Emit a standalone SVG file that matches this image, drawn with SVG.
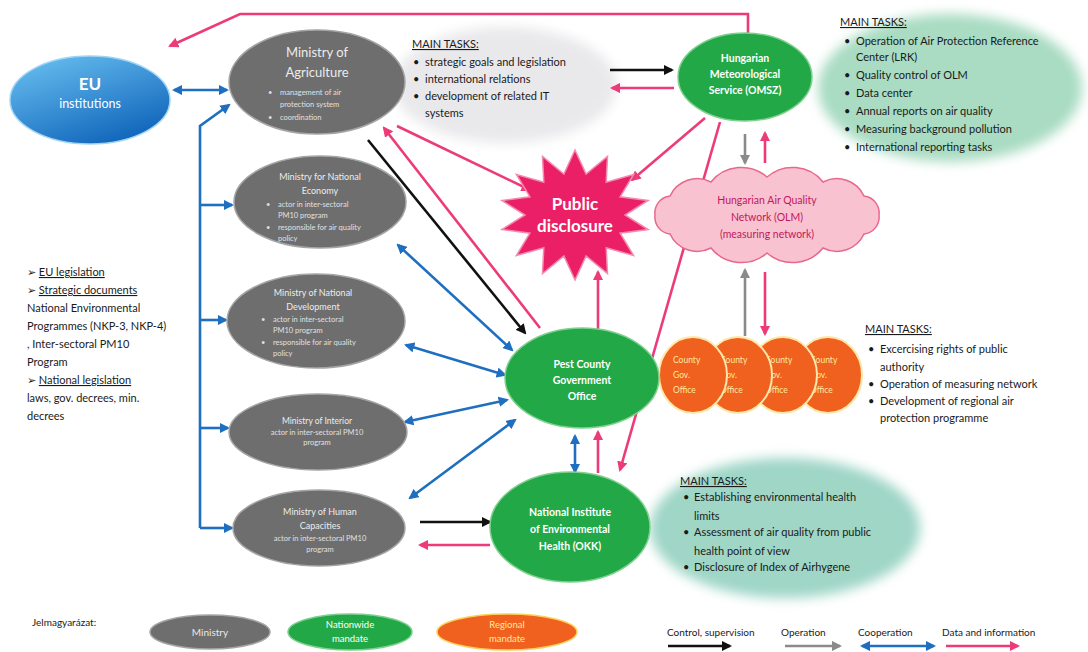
<svg xmlns="http://www.w3.org/2000/svg" width="1088" height="652" viewBox="0 0 1088 652">
<style>
text{font-family:Lato,"Liberation Sans",sans-serif}
.min{fill:#6e6e6e;stroke:#a5a5a5;stroke-width:1.5}
.mt{fill:#ececec;text-anchor:middle}
.ms{fill:#e0e0e0;font-size:7.5px}
.grn{fill:#22a846;stroke:#7fd08f;stroke-width:1.5}
.gt{fill:#fff;font-weight:bold;font-size:10.5px;text-anchor:middle}
.org{fill:#f0601e;stroke:#fde8a8;stroke-width:2}
.ot{fill:#fde9a0;font-size:8.5px}
.tk{fill:#1a1a1a;font-size:11px}
.ul{text-decoration:underline}
.c{fill:none;stroke-width:2.6}
.bk{stroke:#111;marker-end:url(#ak)}
.pk{stroke:#ec3b78;marker-end:url(#ap)}
.bl{stroke:#1f6fc0;marker-end:url(#ab)}
.bb{stroke:#1f6fc0;marker-start:url(#ab);marker-end:url(#ab)}
.gy{stroke:#8a8a8a;marker-end:url(#ag)}
</style>
<defs>
<marker id="ak" viewBox="0 0 10 10" refX="8" refY="5" markerWidth="4" markerHeight="4" orient="auto-start-reverse"><path d="M0,0 L10,5 L0,10 z" fill="#111"/></marker>
<marker id="ap" viewBox="0 0 10 10" refX="8" refY="5" markerWidth="4" markerHeight="4" orient="auto-start-reverse"><path d="M0,0 L10,5 L0,10 z" fill="#ec3b78"/></marker>
<marker id="ab" viewBox="0 0 10 10" refX="8" refY="5" markerWidth="4" markerHeight="4" orient="auto-start-reverse"><path d="M0,0 L10,5 L0,10 z" fill="#1f6fc0"/></marker>
<marker id="ag" viewBox="0 0 10 10" refX="8" refY="5" markerWidth="4" markerHeight="4" orient="auto-start-reverse"><path d="M0,0 L10,5 L0,10 z" fill="#8a8a8a"/></marker>
<linearGradient id="eu" x1="0" y1="0" x2="0.6" y2="1"><stop offset="0" stop-color="#6cc4f2"/><stop offset="1" stop-color="#1468bd"/></linearGradient>
<filter id="blur" x="-20%" y="-20%" width="140%" height="140%"><feGaussianBlur stdDeviation="6"/></filter>
</defs>
<rect width="1088" height="652" fill="#fff"/>

<g id="backgrounds">
<ellipse cx="505" cy="85" rx="112" ry="58" fill="#e9e9ec" filter="url(#blur)"/>
<ellipse cx="950" cy="88" rx="132" ry="74" fill="#a9dcc2" filter="url(#blur)"/>
<ellipse cx="785" cy="528" rx="135" ry="70" fill="#9fd6c6" filter="url(#blur)"/>
</g>

<g id="connectors">
<polyline class="c pk" points="748,33 748,14 240,14 170,46"/>
<line class="c bb" x1="174" y1="90" x2="227" y2="90"/>
<polyline class="c bl" points="200,528 200,126 229,105"/>
<line class="c bl" x1="200" y1="205" x2="232" y2="205"/>
<line class="c bl" x1="200" y1="320" x2="226" y2="320"/>
<line class="c bl" x1="200" y1="428" x2="228" y2="428"/>
<line class="c bl" x1="200" y1="528" x2="232" y2="528"/>
<line class="c bk" x1="368" y1="140" x2="525" y2="333"/>
<line class="c pk" x1="540" y1="328" x2="384" y2="128"/>
<line class="c pk" x1="397" y1="126" x2="530" y2="190"/>
<line class="c bk" x1="610" y1="70" x2="672" y2="70"/>
<line class="c pk" x1="674" y1="88" x2="612" y2="88"/>
<line class="c pk" x1="705" y1="118" x2="632" y2="180"/>
<line class="c pk" x1="720" y1="122" x2="620" y2="470"/>
<line class="c gy" x1="745" y1="134" x2="745" y2="163"/>
<line class="c pk" x1="765" y1="163" x2="765" y2="133"/>
<line class="c gy" x1="745" y1="336" x2="745" y2="270"/>
<line class="c pk" x1="765" y1="272" x2="765" y2="334"/>
<line class="c pk" x1="598" y1="330" x2="598" y2="272"/>
<line class="c bb" x1="398" y1="245" x2="512" y2="350"/>
<line class="c bb" x1="406" y1="345" x2="505" y2="375"/>
<line class="c bb" x1="405" y1="422" x2="507" y2="400"/>
<line class="c bb" x1="410" y1="498" x2="515" y2="420"/>
<line class="c bb" x1="575" y1="436" x2="575" y2="472"/>
<line class="c pk" x1="598" y1="473" x2="598" y2="432"/>
<line class="c bk" x1="420" y1="522" x2="490" y2="522"/>
<line class="c pk" x1="490" y1="545" x2="420" y2="545"/>
</g>

<g id="eu-institutions">
<ellipse cx="90" cy="100" rx="80" ry="44" fill="url(#eu)" stroke="#9fd4f5" stroke-width="1.5"/>
<text x="90" y="90" fill="#fff" font-weight="bold" font-size="17" text-anchor="middle">EU</text>
<text x="90" y="108" fill="#fff" font-size="12.5" text-anchor="middle">institutions</text>
</g>

<g id="ministry-agriculture">
<ellipse class="min" cx="317" cy="82" rx="88" ry="52"/>
<text class="mt" x="317" y="57" font-size="13">Ministry of</text>
<text class="mt" x="317" y="77" font-size="13">Agriculture</text>
<text class="ms" x="268" y="95">•</text><text class="ms" x="280" y="95">management of air</text>
<text class="ms" x="280" y="107">protection system</text>
<text class="ms" x="268" y="120">•</text><text class="ms" x="280" y="120">coordination</text>
</g>

<g id="ministry-economy">
<ellipse class="min" cx="320" cy="202" rx="86" ry="46"/>
<text class="mt" x="320" y="180" font-size="9">Ministry for National</text>
<text class="mt" x="320" y="194" font-size="9">Economy</text>
<text class="ms" x="266" y="207">•</text><text class="ms" x="278" y="207">actor in inter-sectoral</text>
<text class="ms" x="278" y="218">PM10 program</text>
<text class="ms" x="266" y="230">•</text><text class="ms" x="278" y="230">responsible for air quality</text>
<text class="ms" x="278" y="241">policy</text>
</g>

<g id="ministry-development">
<ellipse class="min" cx="316" cy="321" rx="89" ry="47"/>
<text class="mt" x="313" y="296" font-size="9">Ministry of National</text>
<text class="mt" x="313" y="310" font-size="9">Development</text>
<text class="ms" x="261" y="322">•</text><text class="ms" x="273" y="322">actor in inter-sectoral</text>
<text class="ms" x="273" y="333">PM10 program</text>
<text class="ms" x="261" y="345">•</text><text class="ms" x="273" y="345">responsible for air quality</text>
<text class="ms" x="273" y="356">policy</text>
</g>

<g id="ministry-interior">
<ellipse class="min" cx="318" cy="432" rx="89" ry="38"/>
<text class="mt" x="317" y="424" font-size="8.5">Ministry of Interior</text>
<text class="ms" x="317" y="435" text-anchor="middle">actor in inter-sectoral PM10</text>
<text class="ms" x="317" y="445" text-anchor="middle">program</text>
</g>

<g id="ministry-human">
<ellipse class="min" cx="319" cy="528" rx="86" ry="38"/>
<text class="mt" x="320" y="515" font-size="9">Ministry of Human</text>
<text class="mt" x="320" y="529" font-size="9">Capacities</text>
<text class="ms" x="320" y="541" text-anchor="middle">actor in inter-sectoral PM10</text>
<text class="ms" x="320" y="552" text-anchor="middle">program</text>
</g>

<g id="legislation-text">
<text class="tk" x="27" y="276">➢ <tspan class="ul">EU legislation</tspan></text>
<text class="tk" x="27" y="294">➢ <tspan class="ul">Strategic documents</tspan></text>
<text class="tk" x="27" y="312">National Environmental</text>
<text class="tk" x="27" y="330">Programmes (NKP-3, NKP-4)</text>
<text class="tk" x="27" y="348">, Inter-sectoral PM10</text>
<text class="tk" x="27" y="366">Program</text>
<text class="tk" x="27" y="384">➢ <tspan class="ul">National legislation</tspan></text>
<text class="tk" x="27" y="402">laws, gov. decrees, min.</text>
<text class="tk" x="27" y="420">decrees</text>
</g>

<g id="tasks-ministry">
<text class="tk ul" x="412" y="48">MAIN TASKS:</text>
<text class="tk" x="413" y="66">•</text><text class="tk" x="425" y="66">strategic goals and legislation</text>
<text class="tk" x="413" y="83">•</text><text class="tk" x="425" y="83">international relations</text>
<text class="tk" x="413" y="100">•</text><text class="tk" x="425" y="100">development of related IT</text>
<text class="tk" x="425" y="117">systems</text>
</g>

<g id="public-disclosure">
<polygon fill="#ea1f66" stroke="#f58ab0" stroke-width="1.5" points="575,150 586.1,174.1 607.5,156.4 606.2,182.2 633.6,174.5 620.1,196.8 648.1,200.5 625,215 648.1,229.5 620.1,233.2 633.6,255.5 606.2,247.8 607.5,273.6 586.1,255.9 575,280 563.9,255.9 542.5,273.6 543.8,247.8 516.4,255.5 529.9,233.2 501.9,229.5 525,215 501.9,200.5 529.9,196.8 516.4,174.5 543.8,182.2 542.5,156.4 563.9,174.1"/>
<text x="575" y="210" fill="#fff" font-weight="bold" font-size="17" text-anchor="middle">Public</text>
<text x="575" y="232" fill="#fff" font-weight="bold" font-size="17" text-anchor="middle">disclosure</text>
</g>

<g id="met-service">
<ellipse class="grn" cx="745" cy="77" rx="67" ry="44"/>
<text class="gt" x="745" y="62">Hungarian</text>
<text class="gt" x="745" y="78">Meteorological</text>
<text class="gt" x="745" y="94">Service (OMSZ)</text>
</g>

<g id="tasks-met">
<text class="tk ul" x="840" y="26">MAIN TASKS:</text>
<text class="tk" x="844" y="45">•</text><text class="tk" x="856" y="45">Operation of Air Protection Reference</text>
<text class="tk" x="856" y="61">Center (LRK)</text>
<text class="tk" x="844" y="79">•</text><text class="tk" x="856" y="79">Quality control of OLM</text>
<text class="tk" x="844" y="97">•</text><text class="tk" x="856" y="97">Data center</text>
<text class="tk" x="844" y="115">•</text><text class="tk" x="856" y="115">Annual reports on air quality</text>
<text class="tk" x="844" y="133">•</text><text class="tk" x="856" y="133">Measuring background pollution</text>
<text class="tk" x="844" y="151">•</text><text class="tk" x="856" y="151">International reporting tasks</text>
</g>

<g id="olm-network">
<path d="M879,215 A17,17 0 0 1 864,234 A30,30 0 0 1 823,248 A39,39 0 0 1 767,253 A39,39 0 0 1 711,248 A30,30 0 0 1 670,234 A17,17 0 0 1 655,215 A17,17 0 0 1 670,196 A30,30 0 0 1 711,182 A39,39 0 0 1 767,177 A39,39 0 0 1 823,182 A30,30 0 0 1 864,196 A17,17 0 0 1 879,215 Z" fill="#f9c2d0" stroke="#e8688c" stroke-width="1.5"/>
<text x="767" y="204" fill="#c2185b" font-size="10.5" text-anchor="middle">Hungarian Air Quality</text>
<text x="767" y="221" fill="#c2185b" font-size="10.5" text-anchor="middle">Network (OLM)</text>
<text x="767" y="238" fill="#c2185b" font-size="10.5" text-anchor="middle">(measuring network)</text>
</g>

<g id="county-office-4">
<ellipse class="org" cx="828" cy="375" rx="34" ry="38"/>
<text class="ot" x="810" y="363">County</text><text class="ot" x="810" y="378">Gov.</text><text class="ot" x="810" y="393">Office</text>
</g>
<g id="county-office-3">
<ellipse class="org" cx="783" cy="375" rx="34" ry="38"/>
<text class="ot" x="765" y="363">County</text><text class="ot" x="765" y="378">Gov.</text><text class="ot" x="765" y="393">Office</text>
</g>
<g id="county-office-2">
<ellipse class="org" cx="738" cy="375" rx="34" ry="38"/>
<text class="ot" x="720" y="363">County</text><text class="ot" x="720" y="378">Gov.</text><text class="ot" x="720" y="393">Office</text>
</g>
<g id="county-office-1">
<ellipse class="org" cx="693" cy="375" rx="34" ry="38"/>
<text class="ot" x="673" y="363">County</text><text class="ot" x="673" y="378">Gov.</text><text class="ot" x="673" y="393">Office</text>
</g>

<g id="pest-county">
<ellipse class="grn" cx="582" cy="378" rx="77" ry="50"/>
<text class="gt" x="582" y="368">Pest County</text>
<text class="gt" x="582" y="384">Government</text>
<text class="gt" x="582" y="400">Office</text>
</g>

<g id="tasks-county">
<text class="tk ul" x="865" y="333">MAIN TASKS:</text>
<text class="tk" x="868" y="353">•</text><text class="tk" x="880" y="353">Excercising rights of public</text>
<text class="tk" x="880" y="371">authority</text>
<text class="tk" x="868" y="388">•</text><text class="tk" x="880" y="388">Operation of measuring network</text>
<text class="tk" x="868" y="405">•</text><text class="tk" x="880" y="405">Development of regional air</text>
<text class="tk" x="880" y="422">protection programme</text>
</g>

<g id="okk">
<ellipse class="grn" cx="570" cy="527" rx="80" ry="55"/>
<text class="gt" x="570" y="516">National Institute</text>
<text class="gt" x="570" y="533">of Environmental</text>
<text class="gt" x="570" y="550">Health (OKK)</text>
</g>

<g id="tasks-okk">
<text class="tk ul" x="680" y="485">MAIN TASKS:</text>
<text class="tk" x="683" y="501">•</text><text class="tk" x="694" y="501">Establishing environmental health</text>
<text class="tk" x="694" y="520">limits</text>
<text class="tk" x="683" y="536">•</text><text class="tk" x="694" y="536">Assessment of air quality from public</text>
<text class="tk" x="694" y="555">health point of view</text>
<text class="tk" x="683" y="571">•</text><text class="tk" x="694" y="571">Disclosure of Index of Airhygene</text>
</g>

<g id="legend">
<text x="32" y="626" fill="#1a1a1a" font-size="10">Jelmagyarázat:</text>
<ellipse class="min" cx="210" cy="632" rx="60" ry="17"/>
<text x="210" y="636" fill="#e8e8e8" font-size="10" text-anchor="middle">Ministry</text>
<ellipse class="grn" cx="350" cy="632" rx="62" ry="18"/>
<text x="350" y="628" fill="#fff" font-size="9.5" text-anchor="middle">Nationwide</text>
<text x="350" y="642" fill="#fff" font-size="9.5" text-anchor="middle">mandate</text>
<ellipse cx="507" cy="632" rx="70" ry="18" fill="#f0601e" stroke="#fbd15a" stroke-width="1.5"/>
<text x="507" y="628" fill="#fde9a0" font-size="9.5" text-anchor="middle">Regional</text>
<text x="507" y="642" fill="#fde9a0" font-size="9.5" text-anchor="middle">mandate</text>
<text x="667" y="636" fill="#1a1a1a" font-size="10">Control, supervision</text>
<text x="781" y="636" fill="#1a1a1a" font-size="10">Operation</text>
<text x="858" y="636" fill="#1a1a1a" font-size="10">Cooperation</text>
<text x="942" y="636" fill="#1a1a1a" font-size="10">Data and information</text>
<line class="c bk" x1="668" y1="646" x2="730" y2="646"/>
<line class="c gy" x1="785" y1="646" x2="840" y2="646"/>
<line class="c bb" x1="862" y1="646" x2="934" y2="646"/>
<line class="c pk" x1="946" y1="646" x2="1018" y2="646"/>
</g>
</svg>
